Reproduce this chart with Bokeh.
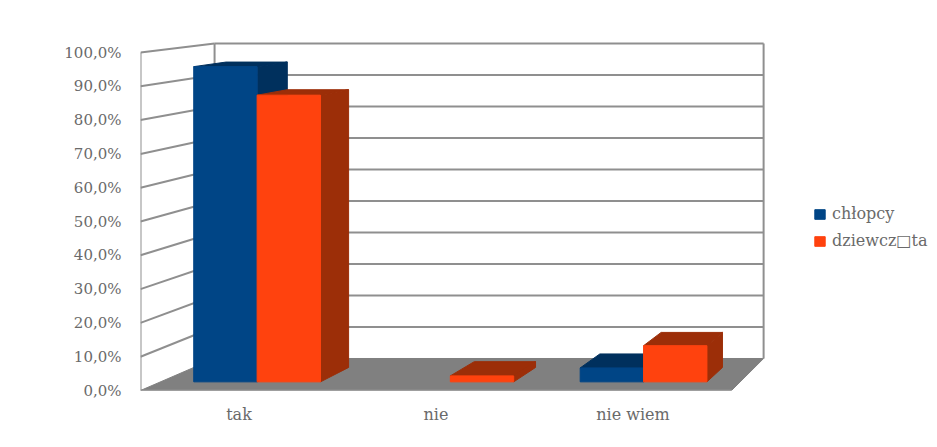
from bokeh.plotting import figure
from bokeh.embed import file_html
from bokeh.resources import INLINE
from bokeh.models import Range1d, FixedTicker, Legend, LegendItem

categories = ["tak", "nie", "nie wiem"]
chlopcy = [95.0, 0.0, 4.2]
dziewczeta = [86.4, 1.8, 10.9]
tick_values = [0, 10, 20, 30, 40, 50, 60, 70, 80, 90, 100]
tick_labels = ["0,0%", "10,0%", "20,0%", "30,0%", "40,0%", "50,0%", "60,0%", "70,0%", "80,0%", "90,0%", "100,0%"]
series_names = ["chłopcy", "dziewcz□ta"]

FONT = "DejaVu Serif"
TXT = "#6a6a6a"
LINE = "#8f8f8f"
FLOOR = "#808080"

UX, UY = 197.0, 3.38
BX0, BXS = -0.124, 0.929
BY0, BYS = 9.47, 0.932
X0, X1 = -0.5, 2.5
D0, D1 = 0.27, 0.72
BW = 0.328


def pr(x, v, d):
    bx = BX0 + (x - X0) * BXS
    by = BY0 + v * BYS
    return x + (bx - x) * d, v + (by - v) * d


p = figure(width=930, height=440, output_backend="svg", toolbar_location=None,
           x_range=Range1d(X0, X0 + 790 / UX), y_range=Range1d(0, 370 / UY),
           min_border_left=140, min_border_right=0, min_border_top=20, min_border_bottom=50,
           outline_line_color=None)
p.grid.visible = False


def poly(pts, color, **kw):
    return p.patch([a for a, _ in pts], [b for _, b in pts], fill_color=color, line_color=color, line_width=1, **kw)


def seg(a, b):
    p.line([a[0], b[0]], [a[1], b[1]], line_color=LINE, line_width=2)


# floor
poly([pr(X0, 0, 0), pr(X0, 0, 1), pr(X1, 0, 1), pr(X1, 0, 0)], FLOOR)
# walls
for v in tick_values[1:]:
    seg(pr(X0, v, 0), pr(X0, v, 1))
    seg(pr(X0, v, 1), pr(X1, v, 1))
seg(pr(X0, 0, 0), pr(X0, 100, 0))
seg(pr(X0, 0, 1), pr(X0, 100, 1))
seg(pr(X1, 0, 1), pr(X1, 100, 1))
seg(pr(X0, 0, 0), pr(X1, 0, 0))


def bar(x, val, face, dark):
    l, r = x, x + BW
    top = [pr(l, val, D0), pr(l, val, D1), pr(r, val, D1), pr(r, val, D0)]
    side = [pr(r, 0, D0), pr(r, 0, D1), pr(r, val, D1), pr(r, val, D0)]
    poly(top, dark)
    poly(side, dark)
    return poly([pr(l, 0, D0), pr(r, 0, D0), pr(r, val, D0), pr(l, val, D0)], face)


legend_r = []
for s, (vals, face, dark) in enumerate([(chlopcy, "#004586", "#00305d"), (dziewczeta, "#ff420e", "#9c2e08")]):
    r0 = None
    for i, val in enumerate(vals):
        if val > 0:
            r = bar(i - BW * (1 - s), val, face, dark)
            r0 = r0 or r
    legend_r.append(r0)

# axes
ya = p.yaxis[0]
ya.ticker = FixedTicker(ticks=tick_values)
ya.major_label_overrides = dict(zip(tick_values, tick_labels))
ya.axis_line_color = None
ya.major_tick_line_color = None
ya.minor_tick_line_color = None
ya.major_label_standoff = 13
ya.major_label_text_font = FONT
ya.major_label_text_font_size = "15px"
ya.major_label_text_color = TXT

xa = p.xaxis[0]
xa.ticker = FixedTicker(ticks=list(range(len(categories))))
xa.major_label_overrides = dict(enumerate(categories))
xa.axis_line_color = None
xa.major_tick_line_color = None
xa.minor_tick_line_color = None
xa.major_label_standoff = 8
xa.major_label_text_font = FONT
xa.major_label_text_font_size = "16px"
xa.major_label_text_color = TXT

legend = Legend(items=[LegendItem(label=n, renderers=[r]) for n, r in zip(series_names, legend_r)],
                location=(673, 140), orientation="vertical", margin=0, padding=0,
                border_line_color=None, background_fill_alpha=0,
                glyph_width=13, glyph_height=12, label_standoff=6, spacing=8,
                label_text_font=FONT, label_text_font_size="16px", label_text_color=TXT,
                label_height=12)
p.add_layout(legend, "center")

open("out.html", "w").write(file_html(p, INLINE))
